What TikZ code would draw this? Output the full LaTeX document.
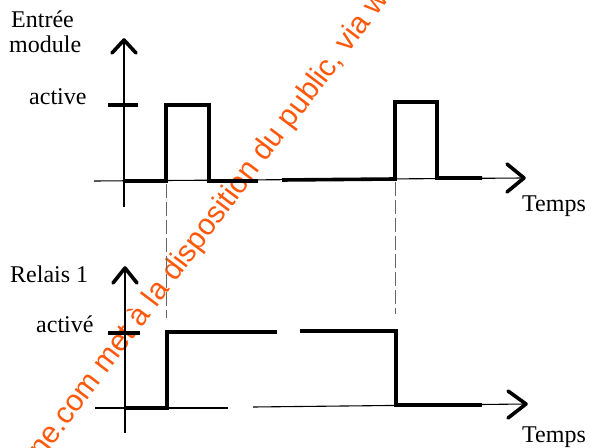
\documentclass[tikz,border=0pt]{standalone}
\usepackage{fontspec}
\setmainfont{Liberation Serif}
\newfontfamily\wmfont{Liberation Sans}
\definecolor{wm}{RGB}{255,88,10}
\begin{document}
\begin{tikzpicture}[x=1bp,y=-1bp,
  axis/.style={line width=1.1bp},
  sig/.style={line width=3.6bp, line join=miter},
  tickm/.style={line width=3.6bp},
  chev/.style={line width=3.6bp, line join=round, line cap=round},
  guide/.style={line width=0.7bp, black!60, dash pattern=on 14bp off 4bp},
  lab/.style={font=\fontsize{24bp}{28bp}\selectfont, inner sep=0pt, anchor=base west},
  wmark/.style={font=\wmfont\fontsize{30bp}{34bp}\selectfont, text=wm, inner sep=0pt}]
\useasboundingbox (0,0) rectangle (591,448);
\begin{scope}
  \clip (0,0) rectangle (591,448);
  \node[wmark, anchor=base west, rotate=53] (wmk) at (42,460) {ne.com met à la disposition du public, via w};
\end{scope}
% ---- top chart
\coordinate (ta0) at (124,207); \coordinate (tatip) at (124,40);
\coordinate (th0) at (94,181);  \coordinate (thtip) at (524,178);
\draw[axis] (ta0) -- (tatip);
\draw[chev] (112,53) -- (tatip) -- (136,53);
\draw[axis] (th0) -- (thtip);
\draw[chev] (507,164) -- (thtip) -- (507,192);
\draw[tickm] (108,105) -- (138,105);
\draw[sig] (124,181) -- (166,181) -- (166,105) -- (209,105) -- (209,181) -- (258,181);
\draw[sig] (282,180) -- (395,179) -- (395,102) -- (437,102) -- (437,178) -- (482,178);
\node[lab] (entree) at (11,28) {Entrée};
\node[lab] (module) at (9,53) {module};
\node[lab] (active) at (29,105) {active};
\node[lab] (temps1) at (522,212) {Temps};
% ---- guides
\draw[guide] (166,184) -- (166,318);
\draw[guide] (395,182) -- (395,314);
% ---- bottom chart
\coordinate (ba0) at (125,433); \coordinate (batip) at (125,268);
\coordinate (bh0) at (95,408);  \coordinate (bhtip) at (526,404);
\draw[axis] (ba0) -- (batip);
\draw[chev] (113,283) -- (batip) -- (137,283);
\draw[axis] (bh0) -- (228,408);
\draw[axis] (253,407) -- (bhtip);
\draw[chev] (508,391) -- (bhtip) -- (508,418);
\draw[tickm] (108,333) -- (140,333);
\draw[sig] (125,408) -- (167,408) -- (167,332) -- (277,332);
\draw[sig] (300,331) -- (396,331) -- (396,405) -- (482,405);
\node[lab] (relais) at (10,283) {Relais 1};
\node[lab] (active2) at (36,332) {activé};
\node[lab] (temps2) at (522,442) {Temps};
\end{tikzpicture}
\end{document}
